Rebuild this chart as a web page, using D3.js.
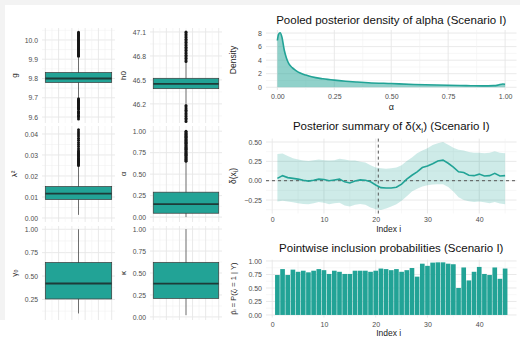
<!DOCTYPE html>
<html>
<head>
<meta charset="utf-8">
<script src="https://cdn.jsdelivr.net/npm/d3@7"></script>
<style>
  body { margin: 0; background: #fff; }
  text { font-family: "Liberation Sans", Arial, sans-serif; }
</style>
</head>
<body>
<svg id="chart" width="520" height="345"></svg>
<script>
// ---- data ----
const boxNames = ["g", "h0", "λ²", "α", "γ₀", "κ"];
const boxLow  = [9.70, 46.20, 0.0015, 0.00, 0.10, 0.02];
const boxQ1   = [9.779, 46.39, 0.0088, 0.045, 0.255, 0.21];
const boxMed  = [9.800, 46.45, 0.0116, 0.150, 0.420, 0.38];
const boxQ3   = [9.831, 46.52, 0.0150, 0.290, 0.645, 0.62];
const boxHigh = [9.910, 46.72, 0.0245, 0.645, 1.00, 1.00];
const boxOutliers = [
  [9.59, 9.60, 9.605, 9.61, 9.62, 9.625, 9.63, 9.64, 9.645, 9.65, 9.655, 9.66, 9.665, 9.67, 9.675, 9.68, 9.685, 9.69, 9.695,
   9.915, 9.92, 9.925, 9.93, 9.935, 9.94, 9.945, 9.95, 9.955, 9.96, 9.965, 9.97, 9.975, 9.98, 9.985, 9.99, 9.995,
   10.0, 10.005, 10.01, 10.015, 10.02, 10.025, 10.03, 10.035, 10.04],
  [45.98, 46.0, 46.02, 46.04, 46.06, 46.08, 46.1, 46.12, 46.14, 46.16, 46.18,
   46.73, 46.75, 46.77, 46.79, 46.81, 46.83, 46.85, 46.87, 46.89, 46.91, 46.93, 46.95, 46.97, 46.99, 47.01, 47.03, 47.05, 47.07, 47.09, 47.1],
  [0.025, 0.0255, 0.026, 0.0265, 0.027, 0.0275, 0.028, 0.0285, 0.029, 0.0295, 0.030, 0.0305, 0.031, 0.0315, 0.032, 0.033,
   0.034, 0.035, 0.036, 0.037, 0.038, 0.039, 0.040, 0.041, 0.042],
  [0.65, 0.66, 0.67, 0.68, 0.69, 0.70, 0.71, 0.72, 0.73, 0.74, 0.75, 0.76, 0.77, 0.78, 0.79, 0.80, 0.81, 0.82, 0.83,
   0.84, 0.85, 0.86, 0.87, 0.88, 0.89, 0.90, 0.91, 0.92, 0.93, 0.94, 0.95, 0.96, 0.97, 0.98, 0.99, 1.0],
  [],
  []
];
const boxTicks = [
  [9.6, 9.7, 9.8, 9.9, 10.0],
  [46.2, 46.5, 46.8, 47.1],
  [0, 0.01, 0.02, 0.03, 0.04],
  [0, 0.25, 0.5, 0.75, 1],
  [0.25, 0.5, 0.75, 1],
  [0, 0.25, 0.5, 0.75, 1]
];
const boxFormats = [".1f", ".1f", ".2f", ".2f", ".2f", ".2f"];

// pooled density of alpha
const alphaGrid = [0, 0.005, 0.012, 0.02, 0.03, 0.04, 0.05, 0.065, 0.08, 0.1, 0.125, 0.15, 0.2, 0.25,
                   0.3, 0.35, 0.4, 0.5, 0.6, 0.7, 0.8, 0.85, 0.9, 0.95, 0.97, 0.99, 1.0];
const alphaDensity = [6.9, 7.8, 8.05, 7.4, 5.5, 4.3, 3.5, 2.9, 2.5, 2.1, 1.8, 1.55, 1.25, 1.05,
                      0.9, 0.78, 0.68, 0.55, 0.42, 0.33, 0.26, 0.23, 0.21, 0.24, 0.33, 0.48, 0.45];
const densityTicksY = [0, 2, 4, 6, 8];
const alphaTicks = [0, 0.25, 0.5, 0.75, 1];

// posterior summary of delta(x_i)
const indexI = d3.range(1, 46);
const deltaMean = [0.03, 0.065, 0.04, 0.03, 0.02, 0.005, -0.005, 0.005, 0.02, 0.015, 0.0, 0.01, 0.02, -0.015, -0.03,
                   -0.005, 0.01, 0.005, -0.015, -0.055, -0.09, -0.095, -0.095, -0.085, -0.045, 0.02, 0.07, 0.115, 0.17, 0.19,
                   0.22, 0.255, 0.265, 0.225, 0.175, 0.115, 0.105, 0.07, 0.065, 0.085, 0.06, 0.065, 0.095, 0.06, 0.065];
const deltaUpper = [0.345, 0.35, 0.32, 0.29, 0.275, 0.26, 0.255, 0.265, 0.275, 0.265, 0.26, 0.265, 0.285, 0.275, 0.26,
                    0.26, 0.245, 0.235, 0.2, 0.17, 0.16, 0.155, 0.16, 0.17, 0.2, 0.255, 0.3, 0.355, 0.39, 0.42,
                    0.46, 0.485, 0.5, 0.465, 0.425, 0.4, 0.39, 0.37, 0.36, 0.36, 0.355, 0.36, 0.38, 0.36, 0.355];
const deltaLower = [-0.27, -0.26, -0.27, -0.28, -0.29, -0.3, -0.305, -0.29, -0.275, -0.285, -0.305, -0.29, -0.285, -0.32, -0.335,
                    -0.31, -0.3, -0.31, -0.345, -0.37, -0.38, -0.36, -0.335, -0.305, -0.26, -0.2, -0.14, -0.105, -0.075, -0.06,
                    -0.05, -0.045, -0.045, -0.08, -0.14, -0.215, -0.25, -0.265, -0.275, -0.27, -0.28, -0.29, -0.275, -0.295, -0.305];
const deltaTicksY = [-0.25, 0, 0.25, 0.5];
const changePoint = 20.5;

// pointwise inclusion probabilities
const inclusionProb = [0.74, 0.85, 0.74, 0.84, 0.80, 0.82, 0.79, 0.82, 0.85, 0.83, 0.76, 0.82, 0.80, 0.76, 0.76,
                       0.82, 0.82, 0.82, 0.80, 0.82, 0.86, 0.85, 0.83, 0.85, 0.80, 0.83, 0.87, 0.71, 0.95, 0.91,
                       0.97, 0.975, 0.975, 0.95, 0.94, 0.50, 0.88, 0.64, 0.80, 0.89, 0.76, 0.74, 0.88, 0.67, 0.86];
const probTicksY = [0, 0.25, 0.5, 0.75, 1];
const indexTicks = [0, 10, 20, 30, 40];

// ---- styling ----
const teal = "#22a396";
const gridMajor = "#e6e6e6";
const gridMinor = "#f2f2f2";
const tickColor = "#4d4d4d";

const svg = d3.select("#chart");
svg.append("rect").attr("width", 520).attr("height", 345).attr("fill", "#fff");
svg.append("rect").attr("width", 520).attr("height", 5).attr("fill", "#f3f3f3");
svg.append("rect").attr("width", 5).attr("height", 320).attr("fill", "#f3f3f3");

function minorsOf(ticks, domain) {
  const step = ticks[1] - ticks[0];
  const out = [];
  const all = [ticks[0] - step].concat(ticks);
  all.forEach(t => {
    const m = t + step / 2;
    if (m > Math.min(...domain) && m < Math.max(...domain)) out.push(m);
  });
  return out;
}

function hGrid(g, y, ticks, x0, x1) {
  const dom = y.domain();
  g.selectAll(null).data(minorsOf(ticks, dom)).enter().append("line")
    .attr("x1", x0).attr("x2", x1).attr("y1", d => y(d)).attr("y2", d => y(d))
    .attr("stroke", gridMinor).attr("stroke-width", 0.6);
  g.selectAll(null).data(ticks).enter().append("line")
    .attr("x1", x0).attr("x2", x1).attr("y1", d => y(d)).attr("y2", d => y(d))
    .attr("stroke", gridMajor).attr("stroke-width", 0.9);
}

function vGrid(g, x, ticks, y0, y1) {
  const dom = x.domain();
  g.selectAll(null).data(minorsOf(ticks, dom)).enter().append("line")
    .attr("y1", y0).attr("y2", y1).attr("x1", d => x(d)).attr("x2", d => x(d))
    .attr("stroke", gridMinor).attr("stroke-width", 0.6);
  g.selectAll(null).data(ticks).enter().append("line")
    .attr("y1", y0).attr("y2", y1).attr("x1", d => x(d)).attr("x2", d => x(d))
    .attr("stroke", gridMajor).attr("stroke-width", 0.9);
}

function leftAxis(g, y, ticks, fmt, x0, size) {
  g.append("g").attr("transform", "translate(" + x0 + ",0)")
    .call(d3.axisLeft(y).tickValues(ticks).tickSize(0).tickPadding(4).tickFormat(d3.format(fmt)))
    .call(a => a.select(".domain").remove())
    .selectAll("text").attr("fill", tickColor).style("font-size", size + "px")
    .style("font-family", "'Liberation Sans', Arial, sans-serif");
}

function bottomAxis(g, x, ticks, fmt, y0, size) {
  g.append("g").attr("transform", "translate(0," + y0 + ")")
    .call(d3.axisBottom(x).tickValues(ticks).tickSize(0).tickPadding(4).tickFormat(d3.format(fmt)))
    .call(a => a.select(".domain").remove())
    .selectAll("text").attr("fill", tickColor).style("font-size", size + "px")
    .style("font-family", "'Liberation Sans', Arial, sans-serif");
}

function yTitle(text, x, y, size) {
  svg.append("text").attr("transform", "translate(" + x + "," + y + ") rotate(-90)")
    .attr("text-anchor", "middle").style("font-size", size + "px").attr("fill", "#222").text(text);
}

// ---- boxplots (2 columns x 3 rows) ----
const bpCols = [[42, 115], [150, 222]];
const bpRows = [[28, 123], [126, 222], [226, 320]];
const bpDomains = [[9.569, 10.062], [45.96, 47.15], [-0.0019, 0.0438], [-0.057, 1.06], [0.03, 1.035], [-0.035, 1.035]];
const bpLabelX = [17, 126];
const bpXGrid = [-0.5, -0.3, -0.1, 0.1, 0.3, 0.5];

boxNames.forEach((name, i) => {
  const col = i % 2, row = Math.floor(i / 2);
  const [x0, x1] = bpCols[col];
  const [y0, y1] = bpRows[row];
  const y = d3.scaleLinear().domain(bpDomains[i]).range([y1, y0]);
  const x = d3.scaleLinear().domain([-0.55, 0.55]).range([x0, x1]);
  const g = svg.append("g");
  hGrid(g, y, boxTicks[i], x0, x1);
  vGrid(g, x, bpXGrid, y0, y1);
  leftAxis(g, y, boxTicks[i], boxFormats[i], x0, 6.8);
  yTitle(name, bpLabelX[col], (y0 + y1) / 2, 8);

  // whiskers
  g.append("line").attr("x1", x(0)).attr("x2", x(0))
    .attr("y1", y(boxLow[i])).attr("y2", y(boxHigh[i]))
    .attr("stroke", "#333").attr("stroke-width", 0.7);
  // box
  g.append("rect").attr("x", x(-0.5)).attr("width", x(0.5) - x(-0.5))
    .attr("y", y(boxQ3[i])).attr("height", y(boxQ1[i]) - y(boxQ3[i]))
    .attr("fill", teal).attr("stroke", "#3a3a3a").attr("stroke-width", 0.7);
  // median
  g.append("line").attr("x1", x(-0.5)).attr("x2", x(0.5))
    .attr("y1", y(boxMed[i])).attr("y2", y(boxMed[i]))
    .attr("stroke", "#1e3b38").attr("stroke-width", 1.8);
  // outliers
  g.selectAll(null).data(boxOutliers[i]).enter().append("circle")
    .attr("cx", x(0)).attr("cy", d => y(d)).attr("r", 1.5).attr("fill", "#161616");
});

// ---- right panels ----
const rpX = [266, 516.5];
const titleSize = 11.5;

function panelTitle(text, y) {
  svg.append("text").attr("x", (rpX[0] + rpX[1]) / 2).attr("y", y)
    .attr("text-anchor", "middle").style("font-size", titleSize + "px").attr("fill", "#111").text(text);
}

// panel 1: density
{
  const y0 = 30, y1 = 90;
  const x = d3.scaleLinear().domain([-0.05, 1.05]).range(rpX);
  const y = d3.scaleLinear().domain([-0.4, 8.45]).range([y1, y0]);
  const g = svg.append("g");
  hGrid(g, y, densityTicksY, rpX[0], rpX[1]);
  vGrid(g, x, alphaTicks, y0, y1);
  leftAxis(g, y, densityTicksY, "d", rpX[0], 7);
  bottomAxis(g, x, alphaTicks, ".2f", y1, 7);
  const pts = alphaGrid.map((a, k) => [a, alphaDensity[k]]);
  g.append("path").datum(pts)
    .attr("d", d3.area().x(d => x(d[0])).y0(y(0)).y1(d => y(d[1])).curve(d3.curveMonotoneX))
    .attr("fill", teal).attr("fill-opacity", 0.5);
  g.append("path").datum(pts)
    .attr("d", d3.line().x(d => x(d[0])).y(d => y(d[1])).curve(d3.curveMonotoneX))
    .attr("fill", "none").attr("stroke", teal).attr("stroke-width", 1.6);
  panelTitle("Pooled posterior density of alpha (Scenario I)", 24);
  yTitle("Density", 236, (y0 + y1) / 2, 8.5);
  svg.append("text").attr("x", x(0.5)).attr("y", 110).attr("text-anchor", "middle")
    .style("font-size", "9px").attr("fill", "#222").text("α");
}

// panel 2: delta summary
{
  const y0 = 138.6, y1 = 213.5;
  const x = d3.scaleLinear().domain([-1.2, 47.2]).range(rpX);
  const y = d3.scaleLinear().domain([-0.424, 0.544]).range([y1, y0]);
  const g = svg.append("g");
  hGrid(g, y, deltaTicksY, rpX[0], rpX[1]);
  vGrid(g, x, indexTicks, y0, y1);
  leftAxis(g, y, deltaTicksY, ".2f", rpX[0], 7);
  bottomAxis(g, x, indexTicks, "d", y1, 7);
  g.append("path").datum(indexI)
    .attr("d", d3.area().x(d => x(d)).y0((d, k) => y(deltaLower[k])).y1((d, k) => y(deltaUpper[k])))
    .attr("fill", teal).attr("fill-opacity", 0.22);
  g.append("line").attr("x1", rpX[0]).attr("x2", rpX[1]).attr("y1", y(0)).attr("y2", y(0))
    .attr("stroke", "#555").attr("stroke-width", 1).attr("stroke-dasharray", "3,3");
  g.append("line").attr("x1", x(changePoint)).attr("x2", x(changePoint)).attr("y1", y0).attr("y2", y1)
    .attr("stroke", "#555").attr("stroke-width", 1).attr("stroke-dasharray", "3,3");
  g.append("path").datum(indexI)
    .attr("d", d3.line().x(d => x(d)).y((d, k) => y(deltaMean[k])))
    .attr("fill", "none").attr("stroke", teal).attr("stroke-width", 1.6);
  const t = svg.append("text").attr("x", (rpX[0] + rpX[1]) / 2).attr("y", 130)
    .attr("text-anchor", "middle").style("font-size", titleSize + "px").attr("fill", "#111");
  t.append("tspan").text("Posterior summary of δ(x");
  t.append("tspan").attr("dy", 2.5).style("font-size", "8px").text("i");
  t.append("tspan").attr("dy", -2.5).text(") (Scenario I)");
  const yt = svg.append("text").attr("transform", "translate(236," + ((y0 + y1) / 2) + ") rotate(-90)")
    .attr("text-anchor", "middle").style("font-size", "8.5px").attr("fill", "#222");
  yt.append("tspan").text("δ(x");
  yt.append("tspan").attr("dy", 2).style("font-size", "6.5px").text("i");
  yt.append("tspan").attr("dy", -2).text(")");
  svg.append("text").attr("x", x(22.5)).attr("y", 232).attr("text-anchor", "middle")
    .style("font-size", "8.5px").attr("fill", "#222").text("Index i");
}

// panel 3: inclusion probabilities
{
  const y0 = 259.7, y1 = 317.6;
  const x = d3.scaleLinear().domain([-1.2, 47.2]).range(rpX);
  const y = d3.scaleLinear().domain([-0.049, 1.024]).range([y1, y0]);
  const g = svg.append("g");
  hGrid(g, y, probTicksY, rpX[0], rpX[1]);
  vGrid(g, x, indexTicks, y0, y1);
  leftAxis(g, y, probTicksY, ".2f", rpX[0], 7);
  bottomAxis(g, x, indexTicks, "d", y1, 7);
  const bw = x(0.9) - x(0);
  g.selectAll(".bar").data(indexI).enter().append("rect")
    .attr("class", "bar")
    .attr("x", d => x(d) - bw / 2).attr("width", bw)
    .attr("y", (d, k) => y(inclusionProb[k]))
    .attr("height", (d, k) => y(0) - y(inclusionProb[k]))
    .attr("fill", teal);
  panelTitle("Pointwise inclusion probabilities (Scenario I)", 252);
  yTitle("p̂ᵢ = P(ζᵢ = 1 | Y)", 236, (y0 + y1) / 2, 7.5);
  svg.append("text").attr("x", x(22.5)).attr("y", 336).attr("text-anchor", "middle")
    .style("font-size", "8.5px").attr("fill", "#222").text("Index i");
}
</script>
</body>
</html>
